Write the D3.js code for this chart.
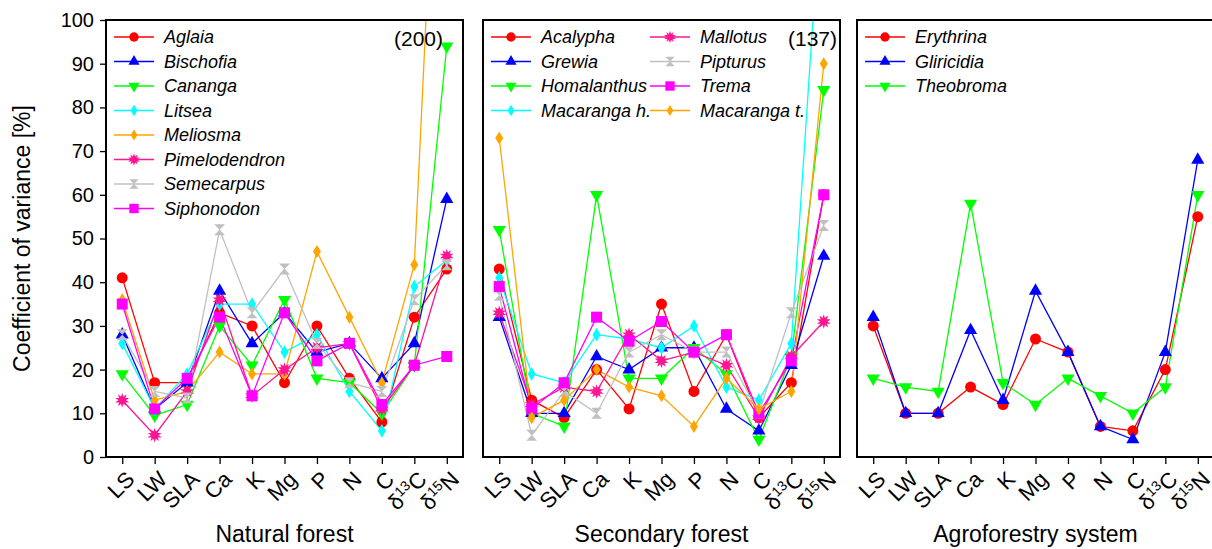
<!DOCTYPE html>
<meta charset="utf-8">
<style>
body { margin: 0; background: #fff; }
text { font-family: Arial, "Liberation Sans", sans-serif; fill: #000; }
.legend text { font-style: italic; font-size: 18px; }
</style>
<body>
<script src="https://d3js.org/d3.v7.min.js"></script>
<script>

// categories on the x axis (rendered with superscripts for the isotopes)
var traits = ["LS", "LW", "SLA", "Ca", "K", "Mg", "P", "N", "C", "d13C", "d15N"];
var yTicks = [0, 10, 20, 30, 40, 50, 60, 70, 80, 90, 100];

// natural forest
var aglaia        = [41, 17, 17, 33, 30, 17, 30, 18, 8, 32, 43];
var bischofia     = [28, 11, 17, 38, 26, 33, 24, 26, 18, 26, 59];
var cananga       = [19, 9.5, 12, 30, 21, 36, 18, 17, 10, 21, 94];
var litsea        = [26, 11, 19, 35, 35, 24, 28, 15, 6, 39, 45];
var meliosma      = [36, 13, 15, 24, 19, 19, 47, 32, 17, 44, 200];
var pimelodendron = [13, 5, 15, 36, 14, 20, 25, 26, 11, 21, 46];
var semecarpus    = [28, 15, 13.5, 52, 33, 43, 26, 17, 15, 36, 44];
var siphonodon    = [35, 11, 18, 32, 14, 33, 22, 26, 12, 21, 23];

// secondary forest
var acalypha    = [43, 13, 9, 20, 11, 35, 15, 28, 9, 17, 60];
var grewia      = [32, 10, 10, 23, 20, 25, 25, 11, 6, 21, 46];
var homalanthus = [52, 10, 7, 60, 18, 18, 25, 19, 4, 23, 84];
var macarangaH  = [41, 19, 17, 28, 27, 25, 30, 16, 13, 26, 137];
var mallotus    = [33, 12, 16, 15, 28, 22, 24, 21, 9, 23, 31];
var pipturus    = [37, 5, 15, 10, 24, 28, 24, 24, 10, 33, 53];
var trema       = [39, 11, 17, 32, 26.5, 31, 24, 28, 10, 22, 60];
var macarangaT  = [73, 9, 13, 20, 16, 14, 7, 18, 11, 15, 90];

// agroforestry system
var erythrina  = [30, 10, 10, 16, 12, 27, 24, 7, 6, 20, 55];
var gliricidia = [32, 10, 10, 29, 13, 38, 24, 7, 4, 24, 68];
var theobroma  = [18, 16, 15, 58, 17, 12, 18, 14, 10, 16, 60];

var panels = [
  {title: "Natural forest", left: 106, note: "(200)", legendCols: 1, series: [
    {name: "Aglaia", v: aglaia, color: "#ff0000", sym: "circle"},
    {name: "Bischofia", v: bischofia, color: "#0000ff", sym: "up"},
    {name: "Cananga", v: cananga, color: "#00ff00", sym: "down"},
    {name: "Litsea", v: litsea, color: "#00ffff", sym: "diamond"},
    {name: "Meliosma", v: meliosma, color: "#ffa500", sym: "thin"},
    {name: "Pimelodendron", v: pimelodendron, color: "#ff1493", sym: "star"},
    {name: "Semecarpus", v: semecarpus, color: "#c0c0c0", sym: "hour"},
    {name: "Siphonodon", v: siphonodon, color: "#ff00ff", sym: "square"}]},
  {title: "Secondary forest", left: 483, note: "(137)", legendCols: 2, series: [
    {name: "Acalypha", v: acalypha, color: "#ff0000", sym: "circle"},
    {name: "Grewia", v: grewia, color: "#0000ff", sym: "up"},
    {name: "Homalanthus", v: homalanthus, color: "#00ff00", sym: "down"},
    {name: "Macaranga h.", v: macarangaH, color: "#00ffff", sym: "diamond"},
    {name: "Mallotus", v: mallotus, color: "#ff1493", sym: "star"},
    {name: "Pipturus", v: pipturus, color: "#c0c0c0", sym: "hour"},
    {name: "Trema", v: trema, color: "#ff00ff", sym: "square"},
    {name: "Macaranga t.", v: macarangaT, color: "#ffa500", sym: "thin"}]},
  {title: "Agroforestry system", left: 857, note: "", legendCols: 1, series: [
    {name: "Erythrina", v: erythrina, color: "#ff0000", sym: "circle"},
    {name: "Gliricidia", v: gliricidia, color: "#0000ff", sym: "up"},
    {name: "Theobroma", v: theobroma, color: "#00ff00", sym: "down"}]}
];

var W = 1212, H = 549;
var plotTop = 20, plotBottom = 457, pw = 357;

var svg = d3.select("body").append("svg")
    .attr("width", W).attr("height", H);

var y = d3.scaleLinear().domain([0, 100]).range([plotBottom, plotTop]);

// marker shapes
function marker(g, sym, color, s) {
  s = s || 1;
  if (sym == "circle") {
    g.append("circle").attr("r", 5.5 * s).attr("fill", color);
  } else if (sym == "up") {
    g.append("path").attr("d", d3.symbol(d3.symbolTriangle, 75 * s * s)).attr("fill", color);
  } else if (sym == "down") {
    g.append("path").attr("d", d3.symbol(d3.symbolTriangle, 75 * s * s)).attr("transform", "rotate(180)").attr("fill", color);
  } else if (sym == "diamond") {
    g.append("path").attr("d", d3.symbol(d3.symbolDiamond, 55 * s * s)).attr("fill", color);
  } else if (sym == "thin") {
    var a = 4 * s, b = 6.5 * s;
    g.append("path").attr("d", "M0," + (-b) + "L" + a + ",0L0," + b + "L" + (-a) + ",0Z").attr("fill", color);
  } else if (sym == "star") {
    g.append("path").attr("d", d3.symbol(d3.symbolStar, 60 * s * s)).attr("fill", color);
    g.append("path").attr("d", d3.symbol(d3.symbolStar, 60 * s * s)).attr("transform", "rotate(36)").attr("fill", color);
  } else if (sym == "hour") {
    var c = 5.5 * s;
    g.append("path").attr("d", "M" + (-c) + "," + (-c) + "L" + c + "," + (-c) + "L0,0L" + c + "," + c + "L" + (-c) + "," + c + "L0,0Z")
      .attr("fill", color);
  } else if (sym == "square") {
    g.append("rect").attr("x", -5.5 * s).attr("y", -5.5 * s).attr("width", 11 * s).attr("height", 11 * s).attr("fill", color);
  }
}

panels.forEach(function(p, pi) {
  var x = d3.scalePoint().domain(traits).range([p.left, p.left + pw]).padding(0.5);
  var g = svg.append("g");

  g.append("clipPath").attr("id", "clip" + pi)
    .append("rect").attr("x", p.left).attr("y", plotTop).attr("width", pw).attr("height", plotBottom - plotTop);

  var plot = g.append("g").attr("clip-path", "url(#clip" + pi + ")");
  var line = d3.line().x(function(d, i) { return x(traits[i]); }).y(function(d) { return y(d); });

  p.series.forEach(function(s) {
    plot.append("path").datum(s.v)
      .attr("fill", "none").attr("stroke", s.color).attr("stroke-width", 1.3)
      .attr("d", line);
  });
  p.series.forEach(function(s) {
    s.v.forEach(function(d, i) {
      var m = plot.append("g").attr("transform", "translate(" + x(traits[i]) + "," + y(d) + ")");
      marker(m, s.sym, s.color);
    });
  });

  // frame
  g.append("rect").attr("x", p.left).attr("y", plotTop).attr("width", pw).attr("height", plotBottom - plotTop)
    .attr("fill", "none").attr("stroke", "#000").attr("stroke-width", 2);

  // x axis
  var xa = g.append("g").attr("transform", "translate(0," + plotBottom + ")")
    .call(d3.axisBottom(x).tickSize(7).tickFormat(""));
  xa.select(".domain").remove();
  xa.selectAll("line").attr("stroke", "#000").attr("stroke-width", 1.3);
  traits.forEach(function(t) {
    var tx = g.append("text")
      .attr("transform", "translate(" + (x(t) + 2) + "," + (plotBottom + 12) + ") rotate(-45)")
      .attr("text-anchor", "end").attr("dy", "0.75em")
      .style("font-size", "22px");
    if (t == "d13C" || t == "d15N") {
      tx.append("tspan").text("\u03B4");
      tx.append("tspan").text(t == "d13C" ? "13" : "15").style("font-size", "14px").attr("dy", "-0.55em");
      tx.append("tspan").text(t.slice(3)).attr("dy", "0.35em");
    } else {
      tx.text(t);
    }
  });

  g.append("text").attr("x", p.left + pw / 2).attr("y", 542)
    .attr("text-anchor", "middle").style("font-size", "23px").text(p.title);

  if (p.note) {
    g.append("text").attr("x", p.left + pw - 20 + (pi == 1 ? 17 : 0)).attr("y", 46)
      .attr("text-anchor", "end").style("font-size", "21px").text(p.note);
  }

  // legend
  var leg = g.append("g").attr("class", "legend");
  p.series.forEach(function(s, i) {
    var col = p.legendCols == 2 ? Math.floor(i / 4) : 0;
    var row = p.legendCols == 2 ? i % 4 : i;
    var lx = p.left + 8 + col * 159, ly = 37 + row * 24.5;
    leg.append("line").attr("x1", lx).attr("x2", lx + 40).attr("y1", ly).attr("y2", ly)
      .attr("stroke", s.color).attr("stroke-width", 1.3);
    var m = leg.append("g").attr("transform", "translate(" + (lx + 20) + "," + ly + ")");
    marker(m, s.sym, s.color, 0.85);
    leg.append("text").attr("x", lx + 50).attr("y", ly + 6).text(s.name);
  });
});

// y axis on the first panel only
var ya = svg.append("g").attr("transform", "translate(" + panels[0].left + ",0)")
  .call(d3.axisLeft(y).tickValues(yTicks).tickSize(6).tickPadding(6));
ya.select(".domain").remove();
ya.selectAll("line").attr("stroke", "#000").attr("stroke-width", 1.3);
ya.selectAll("text").style("font-size", "20px").style("font-family", "Arial, 'Liberation Sans', sans-serif").attr("fill", "#000");

svg.append("text")
  .attr("transform", "translate(30," + ((plotTop + plotBottom) / 2) + ") rotate(-90)")
  .attr("text-anchor", "middle").style("font-size", "23px")
  .text("Coefficient of variance [%]");

</script>
</body>
